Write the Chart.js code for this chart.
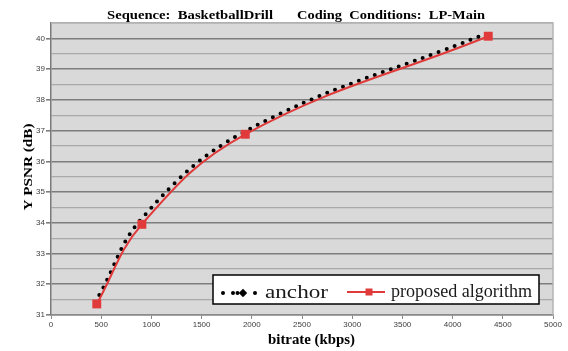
<!DOCTYPE html>
<html>
<head>
<meta charset="utf-8">
<script src="https://cdn.jsdelivr.net/npm/chart.js@4/dist/chart.umd.min.js"></script>
<style>
  html, body { margin: 0; padding: 0; background: #ffffff; }
  #wrap { width: 568px; height: 351px; }
</style>
</head>
<body>
<div id="wrap"><canvas id="c" width="568" height="351"></canvas></div>
<script>
// Rate-distortion points (bitrate in kbps, Y PSNR in dB)
const anchorRate   = [481, 912, 1938, 4283];
const anchorPsnr   = [31.65, 34.17, 36.98, 40.09];
const proposedRate = [456, 905, 1935, 4355];
const proposedPsnr = [31.36, 33.95, 36.88, 40.07];

const seriesNames = ['anchor', 'proposed algorithm'];
const titleParts  = ['Sequence:  BasketballDrill', 'Coding  Conditions:  LP-Main'];
const xAxisTitle  = 'bitrate (kbps)';
const yAxisTitle  = 'Y PSNR (dB)';
const xTickValues = [0, 500, 1000, 1500, 2000, 2500, 3000, 3500, 4000, 4500, 5000];
const yTickValues = [31, 32, 33, 34, 35, 36, 37, 38, 39, 40];

const toPoints = (xs, ys) => xs.map((x, i) => ({ x: x, y: ys[i] }));

const SERIF = '"Liberation Serif", "Times New Roman", serif';
const SANS = '"Liberation Sans", Arial, sans-serif';

// Draw text horizontally stretched to a given width, starting at x
function fitText(ctx, text, x, y, width) {
  const w = ctx.measureText(text).width;
  ctx.save();
  ctx.translate(x, y);
  ctx.scale(width / w, 1);
  ctx.textAlign = 'left';
  ctx.fillText(text, 0, 0);
  ctx.restore();
}

const decor = {
  id: 'decor',
  beforeDraw(chart) {
    const { ctx, chartArea: a } = chart;
    ctx.save();
    ctx.fillStyle = '#d9d9d9';
    ctx.fillRect(a.left, a.top, a.right - a.left, a.bottom - a.top);
    ctx.restore();
  },
  afterDraw(chart) {
    const { ctx, chartArea: a } = chart;
    ctx.save();
    // plot frame (top / right)
    ctx.strokeStyle = '#b4b4b4';
    ctx.lineWidth = 1.5;
    ctx.beginPath();
    ctx.moveTo(a.left, a.top);
    ctx.lineTo(a.right, a.top);
    ctx.lineTo(a.right, a.bottom);
    ctx.stroke();

    // chart title
    ctx.fillStyle = '#000';
    ctx.textBaseline = 'alphabetic';
    ctx.font = 'bold 13px ' + SERIF;
    fitText(ctx, titleParts[0], 107, 18.5, 166);
    fitText(ctx, titleParts[1], 297, 18.5, 188);

    // axis titles
    ctx.font = 'bold 14px ' + SERIF;
    fitText(ctx, xAxisTitle, 268, 344, 87);
    ctx.save();
    ctx.translate(31.5, 167);
    ctx.rotate(-Math.PI / 2);
    ctx.font = 'bold 12px ' + SERIF;
    ctx.textBaseline = 'alphabetic';
    const yw = ctx.measureText(yAxisTitle).width;
    ctx.scale(87 / yw, 1);
    ctx.textAlign = 'center';
    ctx.fillText(yAxisTitle, 0, 0);
    ctx.restore();

    // legend box
    const bx = 213, by = 275, bw = 326, bh = 29;
    ctx.fillStyle = '#ffffff';
    ctx.fillRect(bx, by, bw, bh);
    ctx.strokeStyle = '#000';
    ctx.lineWidth = 1.5;
    ctx.strokeRect(bx, by, bw, bh);

    // anchor marker: dots with a larger diamond
    const my = 293;
    ctx.fillStyle = '#000';
    [223, 233, 237.5, 255].forEach(cx => {
      ctx.beginPath();
      ctx.arc(cx, my, 2, 0, Math.PI * 2);
      ctx.fill();
    });
    ctx.beginPath();
    ctx.moveTo(243, my - 4.2);
    ctx.lineTo(247.2, my);
    ctx.lineTo(243, my + 4.2);
    ctx.lineTo(238.8, my);
    ctx.closePath();
    ctx.fill();

    ctx.font = '18px ' + SERIF;
    ctx.fillStyle = '#1a1a1a';
    fitText(ctx, seriesNames[0], 265, 297.5, 63);

    // proposed marker: red line with square
    ctx.strokeStyle = '#e03a3a';
    ctx.lineWidth = 2.2;
    ctx.beginPath();
    ctx.moveTo(347, 292);
    ctx.lineTo(385, 292);
    ctx.stroke();
    ctx.fillStyle = '#e03a3a';
    ctx.fillRect(365.5, 288.5, 7, 7);

    ctx.font = '18px ' + SERIF;
    ctx.fillStyle = '#1a1a1a';
    fitText(ctx, seriesNames[1], 391, 296.5, 141);
    ctx.restore();
  }
};

new Chart(document.getElementById('c'), {
  type: 'line',
  data: {
    datasets: [
      {
        label: seriesNames[0],
        data: toPoints(anchorRate, anchorPsnr),
        borderColor: '#000000',
        borderWidth: 4,
        borderDash: [0, 8.5],
        borderCapStyle: 'round',
        pointRadius: 0,
        tension: 0.4,
        fill: false,
        order: 2
      },
      {
        label: seriesNames[1],
        data: toPoints(proposedRate, proposedPsnr),
        borderColor: '#e03a3a',
        borderWidth: 2,
        pointStyle: 'rect',
        pointRadius: 6.3,
        pointBackgroundColor: '#e03a3a',
        pointBorderWidth: 0,
        tension: 0.4,
        fill: false,
        order: 1
      }
    ]
  },
  options: {
    responsive: false,
    devicePixelRatio: 1,
    animation: false,
    layout: { padding: { top: 23, right: 15, left: 0, bottom: 0 } },
    plugins: {
      legend: { display: false },
      title: { display: false },
      tooltip: { enabled: false }
    },
    scales: {
      x: {
        type: 'linear',
        min: xTickValues[0],
        max: xTickValues[xTickValues.length - 1],
        afterBuildTicks: s => { s.ticks = xTickValues.map(v => ({ value: v })); },
        afterFit: s => { s.height = 36; },
        border: { display: true, color: '#8a8a8a', width: 1.5 },
        grid: { drawOnChartArea: false, drawTicks: true, tickLength: 4, color: '#8a8a8a' },
        ticks: {
          padding: 1,
          color: '#404040',
          font: { family: SANS, size: 8 },
          maxRotation: 0,
          autoSkip: false,
          callback: v => String(v)
        }
      },
      y: {
        type: 'linear',
        min: 31,
        max: 40.5,
        afterBuildTicks: s => {
          const t = [];
          yTickValues.forEach(v => { t.push({ value: v }); t.push({ value: v + 0.5 }); });
          s.ticks = t;
        },
        afterFit: s => { s.width = 51; },
        border: { display: true, color: '#7a7a7a', width: 1.5 },
        grid: {
          drawTicks: true,
          tickLength: 5,
          color: c => (Number.isInteger(c.tick.value) ? '#7d7d7d' : '#a9a9a9'),
          lineWidth: c => (Number.isInteger(c.tick.value) ? 1.6 : 1.2),
          tickColor: c => (Number.isInteger(c.tick.value) ? '#7d7d7d' : 'rgba(0,0,0,0)')
        },
        ticks: {
          padding: 1,
          color: '#404040',
          font: { family: SANS, size: 8 },
          autoSkip: false,
          callback: v => (Number.isInteger(v) ? String(v) : '')
        }
      }
    }
  },
  plugins: [decor]
});
</script>
</body>
</html>
